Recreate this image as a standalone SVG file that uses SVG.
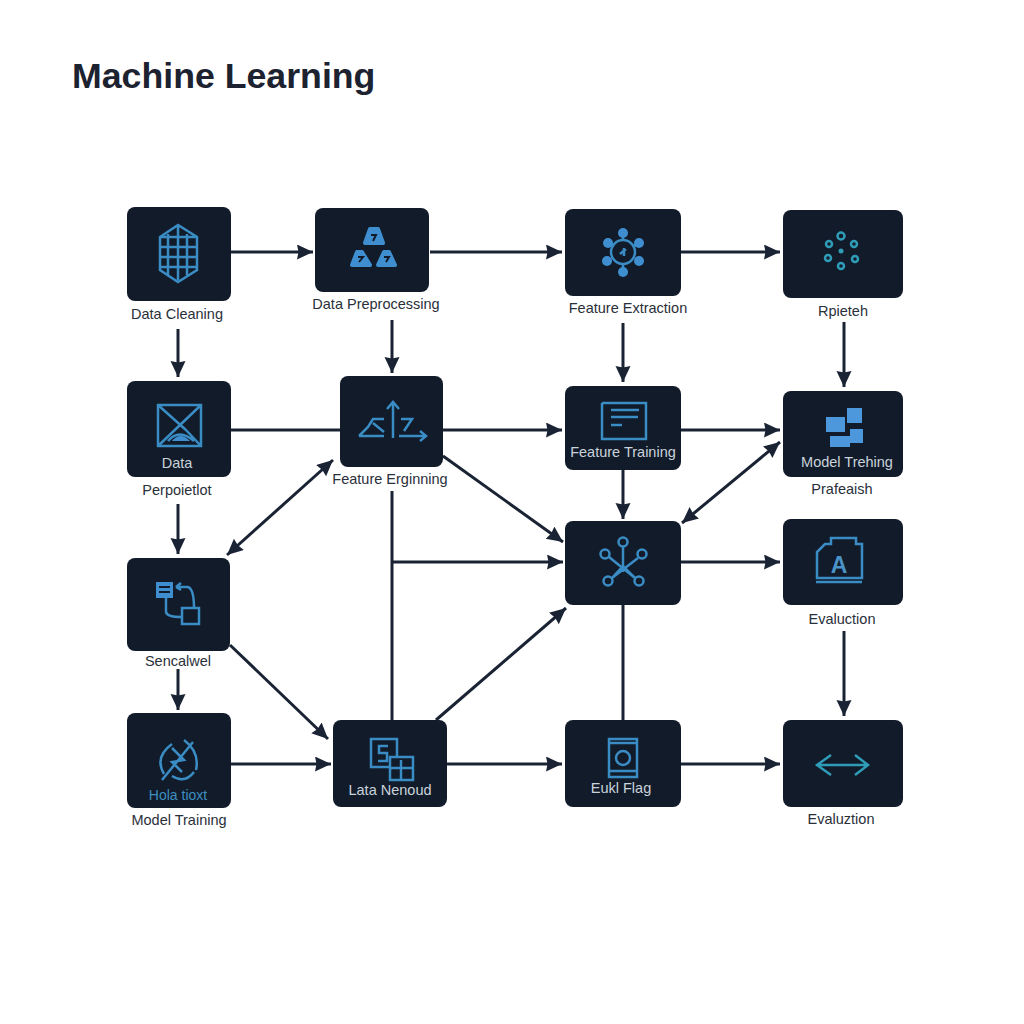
<svg xmlns="http://www.w3.org/2000/svg" width="1024" height="1024" viewBox="0 0 1024 1024">
<style>
.box{fill:#121b2a}
.c{fill:none;stroke:#1a2333;stroke-width:3}
.i{fill:none;stroke:#3a8cc4;stroke-width:2.500}
.t{stroke:#2f9cb8}
.f{fill:#3f8fd0;stroke:none}
.r{fill:#3f8fd0;stroke:#3f8fd0;stroke-width:4;stroke-linejoin:round}
.d{fill:none;stroke:#121b2a;stroke-width:2}
.l{font-family:"Liberation Sans",Arial,sans-serif;font-size:14.500px;fill:#2a303a;text-anchor:middle}
.w{font-family:"Liberation Sans",Arial,sans-serif;font-size:14.500px;fill:#c9d3dc;text-anchor:middle}
.title{font-family:"Liberation Sans",Arial,sans-serif;font-size:35.700px;font-weight:bold;fill:#1c2230}
</style>
<defs>
<marker id="a" markerUnits="userSpaceOnUse" markerWidth="18" markerHeight="16" refX="16" refY="7.500" orient="auto"><path d="M0 0L16 7.500L0 15L1.500 7.500Z" fill="#1a2333"/></marker>
<marker id="s" markerUnits="userSpaceOnUse" markerWidth="18" markerHeight="16" refX="16" refY="7.500" orient="auto-start-reverse"><path d="M0 0L16 7.500L0 15L1.500 7.500Z" fill="#1a2333"/></marker>
</defs>
<rect width="1024" height="1024" fill="#fff"/>
<text class="title" x="72" y="88">Machine Learning</text>
<g id="connectors">
<path class="c" marker-end="url(#a)" d="M231 252H313"/>
<path class="c" marker-end="url(#a)" d="M430 252H562"/>
<path class="c" marker-end="url(#a)" d="M681 252H780"/>
<path class="c" marker-end="url(#a)" d="M178 329V377"/>
<path class="c" marker-end="url(#a)" d="M392 320V373"/>
<path class="c" marker-end="url(#a)" d="M623 323V382"/>
<path class="c" marker-end="url(#a)" d="M844 322V387"/>
<path class="c" d="M231 430H340"/>
<path class="c" marker-end="url(#a)" d="M443 430H562"/>
<path class="c" marker-end="url(#a)" d="M681 430H780"/>
<path class="c" marker-end="url(#a)" d="M178 504V554"/>
<path class="c" marker-start="url(#s)" marker-end="url(#s)" d="M227 555L333 460"/>
<path class="c" marker-end="url(#a)" d="M443 456L563 542"/>
<path class="c" marker-end="url(#a)" d="M623 470V519"/>
<path class="c" marker-start="url(#s)" marker-end="url(#s)" d="M682 523L780 442"/>
<path class="c" d="M392 491V720"/>
<path class="c" marker-end="url(#a)" d="M392 562H563"/>
<path class="c" marker-end="url(#a)" d="M681 562H780"/>
<path class="c" marker-end="url(#a)" d="M230 645L328 739"/>
<path class="c" marker-end="url(#a)" d="M178 669V710"/>
<path class="c" marker-end="url(#a)" d="M436 720L566 608"/>
<path class="c" d="M623 605V720"/>
<path class="c" marker-end="url(#a)" d="M844 631V716"/>
<path class="c" marker-end="url(#a)" d="M231 764H331"/>
<path class="c" marker-end="url(#a)" d="M447 764H562"/>
<path class="c" marker-end="url(#a)" d="M681 764H780"/>
</g>
<g id="n1"><rect class="box" x="127" y="207" width="104" height="94" rx="8"/>
<path class="i" d="M160 237L178 225L197 237V270L178 282L160 270ZM160 237H197M160 247H197M160 257H197M160 267H197M168 234V275M178 226V280M187 234V275"/>
<text class="l" x="177" y="319">Data Cleaning</text></g>
<g id="n2"><rect class="box" x="315" y="208" width="114" height="84" rx="8"/>
<path class="r" d="M370 229H378L383 243H365ZM357 252H362L370 265H352ZM384 252H389L395 265H378Z"/>
<path class="d" d="M371 235H376L373 241M358 257H363L359 262M384 257H389L386 262"/>
<text class="l" x="376" y="309">Data Preprocessing</text></g>
<g id="n3"><rect class="box" x="565" y="209" width="116" height="87" rx="8"/>
<circle class="i" cx="623" cy="252" r="12"/>
<path class="i" d="M623 233V272M608 243L639 261M639 243L608 261" stroke-dasharray="7 25 7 0"/>
<g class="f"><circle cx="623" cy="233" r="5"/><circle cx="608" cy="243" r="5"/><circle cx="639" cy="243" r="5"/><circle cx="607" cy="261" r="5"/><circle cx="639" cy="261" r="5"/><circle cx="623" cy="272" r="5"/></g>
<path class="i" d="M620 254L626 249M624 248V256"/>
<text class="l" x="628" y="313">Feature Extraction</text></g>
<g id="n4"><rect class="box" x="783" y="210" width="120" height="88" rx="8"/>
<g class="i t" stroke-width="3"><circle cx="841" cy="236" r="3.500"/><circle cx="829" cy="244" r="3"/><circle cx="854" cy="244" r="3"/><circle cx="828" cy="258" r="3"/><circle cx="855" cy="259" r="3"/><circle cx="841" cy="266" r="3"/></g>
<circle cx="841" cy="251" r="2.500" fill="#2f9cb8"/>
<text class="l" x="843" y="316">Rpieteh</text></g>
<g id="n5"><rect class="box" x="127" y="381" width="104" height="96" rx="8"/>
<path class="i" d="M158 405H201V446H158ZM158 405L186 430M201 405L158 446M186 430L201 446M168 441Q179 428 194 441"/>
<path class="f" d="M172 441Q180 431 190 441Z"/>
<text class="w" x="177" y="468">Data</text>
<text class="l" x="177" y="495">Perpoietlot</text></g>
<g id="n6"><rect class="box" x="340" y="376" width="103" height="91" rx="8"/>
<path class="i" d="M393 438V403M387 409L393 402L399 409M399 436H426M420 431L426 436L420 441M359 436H384M359 436L368 427L373 419H384M373 423L384 432M401 419H412L404 431"/>
<text class="l" x="390" y="484">Feature Erginning</text></g>
<g id="n7"><rect class="box" x="565" y="386" width="116" height="84" rx="8"/>
<path class="i" d="M602 403H646V439H602V403M611 410H639M611 417H638M611 425H622"/>
<text class="w" x="623" y="457">Feature Training</text></g>
<g id="n8"><rect class="box" x="783" y="391" width="120" height="86" rx="8"/>
<path d="M826 417H845V432H826ZM847 408H862V423H847ZM850 429H863V443H850ZM830 436H850V447H830Z" fill="#4d97dc"/>
<text class="w" x="847" y="467">Model Trehing</text>
<text class="l" x="842" y="494">Prafeaish</text></g>
<g id="n9"><rect class="box" x="127" y="558" width="103" height="93" rx="8"/>
<rect x="156" y="582" width="17" height="16" fill="#3f8fd0"/>
<path class="d" d="M159 587H170M159 592H170"/>
<path class="i" d="M176 587H188Q194 589 194 608M176 587L181 583M176 587L181 590M166 598V612Q167 617 181 617"/>
<rect class="i" x="182" y="608" width="17" height="16"/>
<text class="l" x="178" y="666">Sencalwel</text></g>
<g id="n10"><rect class="box" x="565" y="521" width="116" height="84" rx="8"/>
<g class="i"><circle cx="623" cy="542" r="4.500"/><circle cx="605" cy="554" r="4.500"/><circle cx="642" cy="554" r="4.500"/><circle cx="608" cy="581" r="4.500"/><circle cx="639" cy="581" r="4.500"/><path d="M623 547V572M609 557L635 578M638 558L612 578M612 578L623 566L635 578"/></g></g>
<g id="n11"><rect class="box" x="783" y="519" width="120" height="86" rx="8"/>
<path class="i" d="M817 578V552L825 544H831V538H856V544H862V578ZM816 582H862"/>
<text x="839" y="573" font-family="Liberation Sans,Arial,sans-serif" font-size="23" font-weight="bold" fill="#4a93c8" text-anchor="middle">A</text>
<text class="l" x="842" y="624">Evaluction</text></g>
<g id="n12"><rect class="box" x="127" y="713" width="104" height="95" rx="8"/>
<path class="i" d="M193 742L162 780M172 744Q154 757 164 774M184 740Q200 752 196 770M172 776Q185 784 194 772M172 748L184 760L172 762L182 772"/>
<text x="178" y="800" font-family="Liberation Sans,Arial,sans-serif" font-size="14" fill="#3d8fc0" text-anchor="middle">Hola tioxt</text>
<text class="l" x="179" y="825">Model Training</text></g>
<g id="n13"><rect class="box" x="333" y="720" width="114" height="87" rx="8"/>
<rect class="i" x="371" y="739" width="26" height="28"/>
<rect x="390" y="757" width="23" height="23" fill="#121b2a" stroke="#3a8cc4" stroke-width="2.500"/>
<path class="i" d="M390 768H413M401 760V780M388 746H379V753H387V761H378"/>
<text class="w" x="390" y="795">Lata Nenoud</text></g>
<g id="n14"><rect class="box" x="565" y="720" width="116" height="87" rx="8"/>
<path class="i" d="M609 739H637V777H609ZM609 743H637M609 771H637"/>
<circle class="i" cx="623" cy="758" r="7"/>
<text class="w" x="621" y="793">Eukl Flag</text></g>
<g id="n15"><rect class="box" x="783" y="720" width="120" height="87" rx="8"/>
<path class="i t" d="M817 765H868M831 755L817 765L831 775M855 755L868 765L855 775"/>
<text class="l" x="841" y="824">Evaluztion</text></g>
</svg>
